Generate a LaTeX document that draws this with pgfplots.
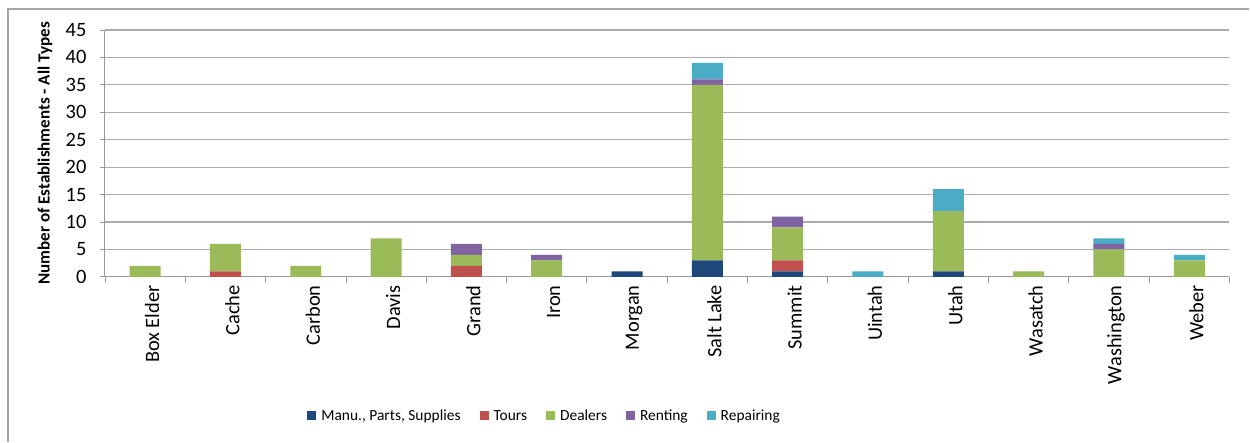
\documentclass[border=0pt]{standalone}
\usepackage{pgfplots}
\pgfplotsset{compat=1.18}
\usepackage{fontspec}
\setmainfont{Carlito}
\definecolor{cManu}{HTML}{1F497D}
\definecolor{cTours}{HTML}{C0504D}
\definecolor{cDealers}{HTML}{9BBB59}
\definecolor{cRent}{HTML}{8064A2}
\definecolor{cRepair}{HTML}{4BACC6}
\begin{document}
\begin{tikzpicture}[x=1bp,y=1bp]
\path[fill=white] (0,0) rectangle (1250,442);
\draw[gray!70, line width=1.2bp] (8,0) -- (8,433) -- (1250,433);
\begin{axis}[
  at={(105bp,165bp)}, anchor=south west,
  scale only axis, width=1125bp, height=247bp,
  ybar stacked, bar width=31bp,
  xmin=-0.5, xmax=13.5, ymin=0, ymax=45,
  ytick={0,5,...,45},
  xtick={0,...,13},
  xticklabels={Box Elder,Cache,Carbon,Davis,Grand,Iron,Morgan,Salt Lake,Summit,Uintah,Utah,Wasatch,Washington,Weber},
  minor xtick={-0.5,0.5,...,13.5},
  x tick label style={rotate=90, anchor=east, font=\fontsize{20.5}{20.5}\selectfont},
  y tick label style={font=\fontsize{20.5}{20.5}\selectfont, xshift=-10bp},
  /pgf/number format/assume math mode=true,
  major x tick style={draw=none},
  minor x tick style={draw=gray!80, line width=0.8bp},
  minor tick length=6bp,
  y tick style={draw=gray!80, line width=0.8bp},
  major tick length=5bp,
  xtick pos=bottom, ytick pos=left,
  tick align=outside,
  xticklabel style={yshift=-7bp},
  ymajorgrids, grid style={gray!65, line width=1.1bp},
  axis x line*=bottom, axis y line*=left,
  axis line style={gray!80, line width=1bp, -},
  ylabel={\bfseries Number of Establishments - All Types},
  ylabel style={font=\fontsize{17.1}{17.1}\selectfont, at={(axis description cs:-0.0533,0.5)}, anchor=center},
  legend style={at={(0.391,-0.563)}, anchor=center, draw=none, fill=none,
    font=\fontsize{15.5}{15.5}\selectfont, legend columns=5,
    /tikz/every odd column/.append style={column sep=3bp},
    /tikz/every even column/.append style={column sep=17bp}},
  legend image code/.code={\fill[#1] (0bp,-4.5bp) rectangle (9bp,4.5bp);},
]
\addplot[fill=cManu, draw=none] coordinates {(0,0) (1,0) (2,0) (3,0) (4,0) (5,0) (6,1) (7,3) (8,1) (9,0) (10,1) (11,0) (12,0) (13,0)};
\addplot[fill=cTours, draw=none] coordinates {(0,0) (1,1) (2,0) (3,0) (4,2) (5,0) (6,0) (7,0) (8,2) (9,0) (10,0) (11,0) (12,0) (13,0)};
\addplot[fill=cDealers, draw=none] coordinates {(0,2) (1,5) (2,2) (3,7) (4,2) (5,3) (6,0) (7,32) (8,6) (9,0) (10,11) (11,1) (12,5) (13,3)};
\addplot[fill=cRent, draw=none] coordinates {(0,0) (1,0) (2,0) (3,0) (4,2) (5,1) (6,0) (7,1) (8,2) (9,0) (10,0) (11,0) (12,1) (13,0)};
\addplot[fill=cRepair, draw=none] coordinates {(0,0) (1,0) (2,0) (3,0) (4,0) (5,0) (6,0) (7,3) (8,0) (9,1) (10,4) (11,0) (12,1) (13,1)};
\legend{{Manu., Parts, Supplies},Tours,Dealers,Renting,Repairing}
\end{axis}
\end{tikzpicture}
\end{document}
